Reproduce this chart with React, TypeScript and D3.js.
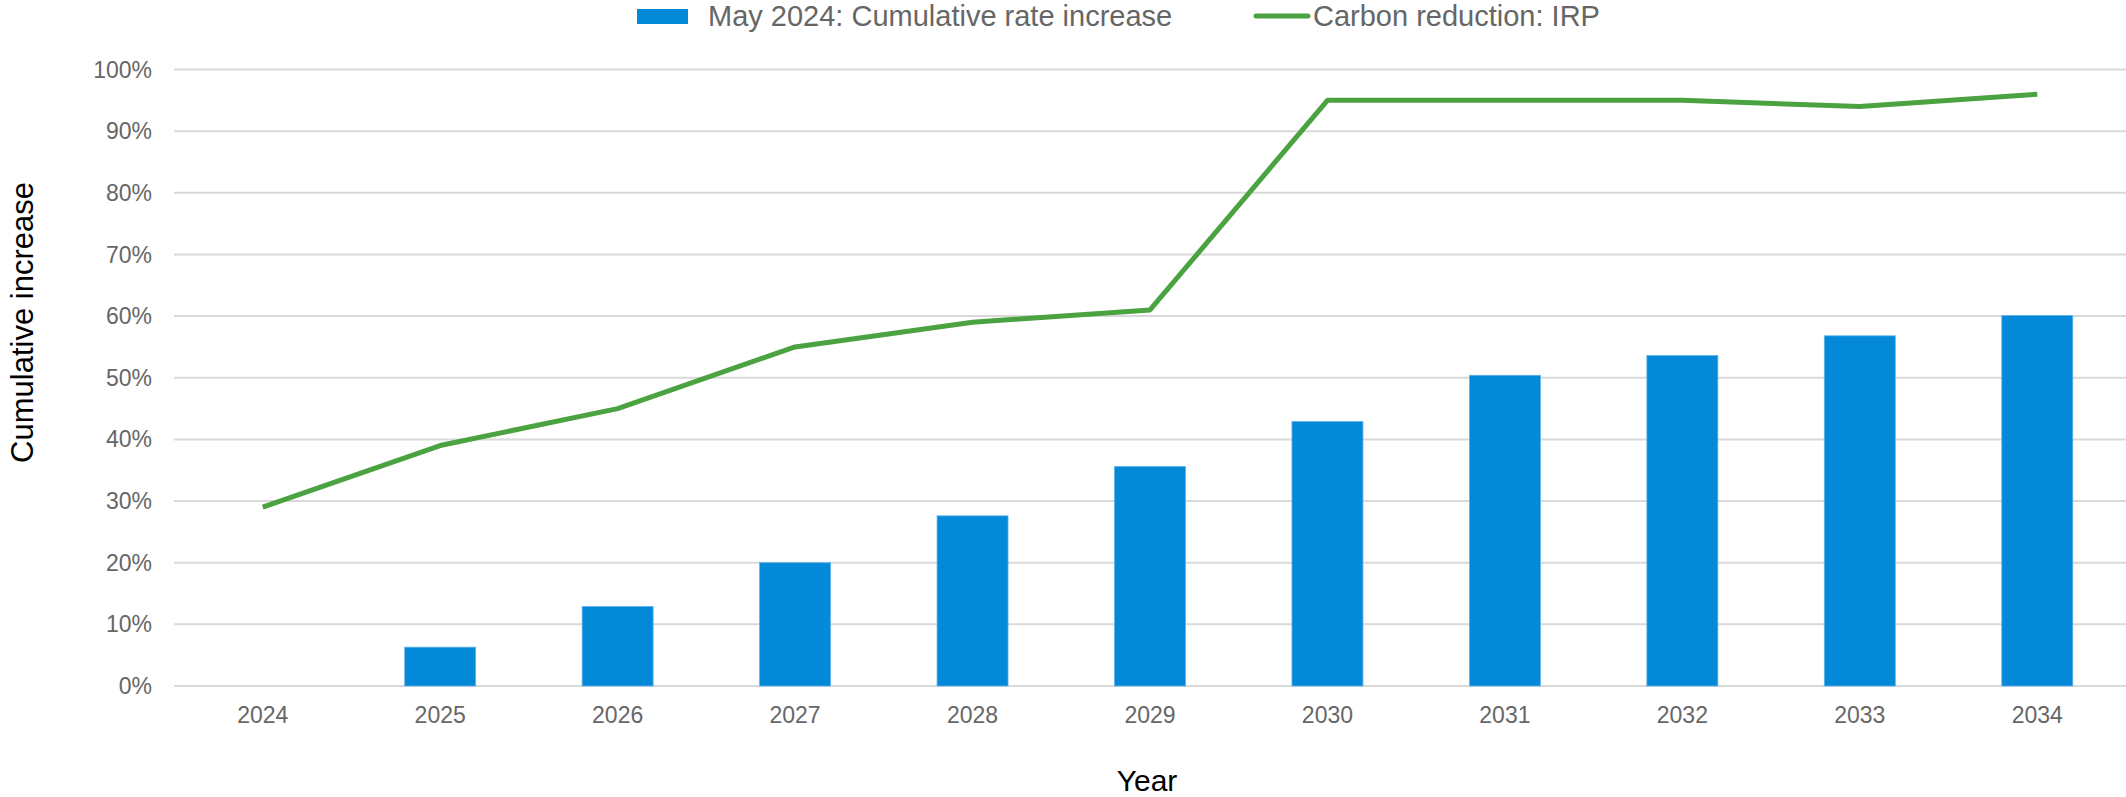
import React from "react";
import * as d3 from "d3";

const years = ["2024", "2025", "2026", "2027", "2028", "2029", "2030", "2031", "2032", "2033", "2034"];
const rateIncrease = [0, 6.3, 12.9, 20.0, 27.6, 35.6, 42.9, 50.4, 53.6, 56.8, 60.1];
const carbonReduction = [29, 39, 45, 55, 59, 61, 95, 95, 95, 94, 96];
const yTicks = [0, 10, 20, 30, 40, 50, 60, 70, 80, 90, 100];
const barLabel = "May 2024: Cumulative rate increase";
const lineLabel = "Carbon reduction: IRP";

const W = 2126;
const H = 797;
const FONT = "'Liberation Sans', Arial, Helvetica, sans-serif";
const BLUE = "#0389d8";
const GREEN = "#4aa340";

export default function App() {
  const x = d3.scaleBand<string>().domain(years).range([174, 2126]).paddingInner(0.6).paddingOuter(0.3);
  const y = d3.scaleLinear().domain([0, 100]).range([686, 69.5]);
  const line = d3
    .line<number>()
    .x((_, i) => (x(years[i]) as number) + x.bandwidth() / 2)
    .y((d) => y(d));

  return (
    <svg
      width={W}
      height={H}
      style={{ position: "absolute", left: 0, top: 0, background: "#fff" }}
      fontFamily={FONT}
    >
      {yTicks.map((t) => (
        <g key={t}>
          <line x1={174} x2={2126} y1={y(t)} y2={y(t)} stroke="#d9d9d9" strokeWidth={2} />
          <text x={152} y={y(t)} dy="0.35em" textAnchor="end" fontSize={23} fill="#666">
            {t}%
          </text>
        </g>
      ))}
      {years.map((yr, i) => (
        <g key={yr}>
          {rateIncrease[i] > 0 && (
            <rect
              x={x(yr) as number}
              y={y(rateIncrease[i])}
              width={x.bandwidth()}
              height={y(0) - y(rateIncrease[i])}
              fill={BLUE}
              stroke="#5fb3ea"
              strokeWidth={0.8}
            />
          )}
          <text
            x={(x(yr) as number) + x.bandwidth() / 2}
            y={723}
            textAnchor="middle"
            fontSize={23}
            fill="#666"
          >
            {yr}
          </text>
        </g>
      ))}
      <path d={line(carbonReduction) || ""} fill="none" stroke={GREEN} strokeWidth={5} strokeLinejoin="round" />

      <text
        transform="translate(33,322.5) rotate(-90)"
        textAnchor="middle"
        fontSize={31}
        fill="#000"
      >
        Cumulative increase
      </text>
      <text x={1147} y={791} textAnchor="middle" fontSize={30} fill="#000">
        Year
      </text>

      <rect x={637} y={9} width={51} height={15} fill={BLUE} />
      <text x={708} y={26} fontSize={29} fill="#666">
        {barLabel}
      </text>
      <line x1={1256} x2={1308} y1={16} y2={16} stroke={GREEN} strokeWidth={5} strokeLinecap="round" />
      <text x={1313} y={26} fontSize={29} fill="#666">
        {lineLabel}
      </text>
    </svg>
  );
}
